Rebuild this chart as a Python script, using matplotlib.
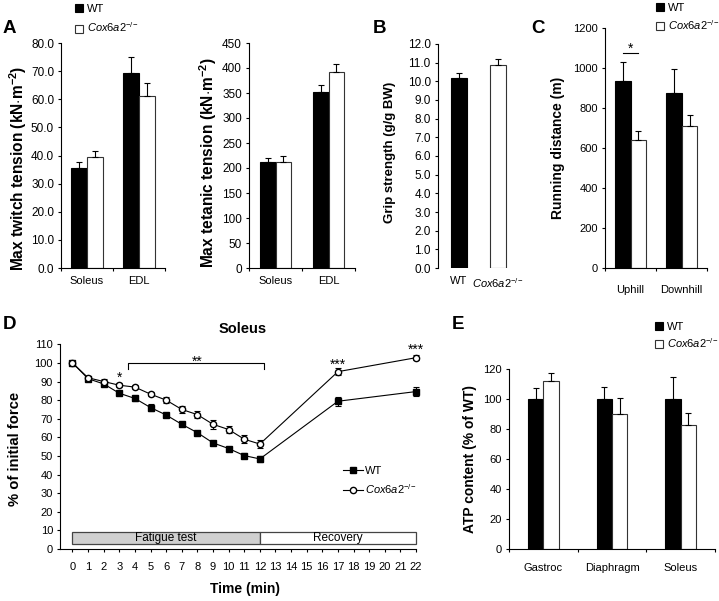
import matplotlib
matplotlib.use('Agg')
import matplotlib.pyplot as plt
from matplotlib.patches import Patch, Rectangle
from matplotlib.lines import Line2D
from matplotlib.ticker import FormatStrFormatter
import numpy as np

plt.rcParams['font.family'] = ['Liberation Sans', 'DejaVu Sans']
plt.rcParams['mathtext.fontset'] = 'custom'
plt.rcParams['mathtext.rm'] = 'Liberation Sans'
plt.rcParams['mathtext.it'] = 'Liberation Sans:italic'
plt.rcParams['mathtext.bf'] = 'Liberation Sans:bold'
plt.rcParams['mathtext.bfit'] = 'Liberation Sans:bold:italic'

KO = r'$\mathit{Cox6a2}^{\mathit{{-}/{-}}}$'

# ---------------- data ----------------
a_cats = ['Soleus', 'EDL']
twitch_wt = [35.5, 69.3]
twitch_wt_err = [2.2, 5.7]
twitch_ko = [39.3, 61.3]
twitch_ko_err = [2.2, 4.5]
tetanic_wt = [212, 352]
tetanic_wt_err = [8, 15]
tetanic_ko = [213, 393]
tetanic_ko_err = [11, 15]

grip_cats = ['WT', KO]
grip = [10.2, 10.9]
grip_err = [0.25, 0.3]

run_cats = ['Uphill', 'Downhill']
run_wt = [935, 875]
run_wt_err = [95, 120]
run_ko = [640, 710]
run_ko_err = [45, 55]

atp_cats = ['Gastroc', 'Diaphragm', 'Soleus']
atp_wt = [100, 100, 100]
atp_wt_err = [7.5, 8, 15]
atp_ko = [112, 90, 82.5]
atp_ko_err = [5.5, 11, 8]

time = [0, 1, 2, 3, 4, 5, 6, 7, 8, 9, 10, 11, 12, 17, 22]
force_wt = [100, 91.5, 88.7, 83.7, 80.9, 76, 72, 67, 62.5, 57, 54, 50.2, 48.4, 79.4, 84.6]
force_wt_err = [0.5, 1, 1, 1, 1.2, 2, 1, 1, 1, 1, 1, 1.2, 1.5, 2.5, 2.5]
force_ko = [100, 92, 90, 88, 87, 83.2, 80, 75, 72.2, 67, 64.2, 59, 56.4, 95.3, 102.8]
force_ko_err = [0.5, 1, 1.2, 1, 1, 1.2, 1.5, 2, 2, 2.5, 2, 2, 2, 1.8, 1.5]
time_ticks = list(range(0, 23))
phases = [('Fatigue test', 0, 12, '#d0d0d0'), ('Recovery', 12, 22, 'white')]

# ---------------- figure ----------------
W, H = 719, 601
fig = plt.figure(figsize=(W / 100, H / 100), dpi=100)


def px_axes(x0, x1, ytop, ybot):
    return fig.add_axes([x0 / W, 1 - ybot / H, (x1 - x0) / W, (ybot - ytop) / H])


def style(ax, ysize=8):
    for s in ['top', 'right']:
        ax.spines[s].set_visible(False)
    for s in ['left', 'bottom']:
        ax.spines[s].set_linewidth(0.8)
    ax.tick_params(direction='out', length=2.5, width=0.8, labelsize=8, pad=2.5)
    ax.tick_params(axis='y', labelsize=ysize)


def ftext(x, y, s, **kw):
    fig.text(x / W, 1 - y / H, s, **kw)


def grouped(ax, cats, wt, wte, ko, koe, bw, ymax, step, fmt, lpad, ysize=8):
    style(ax, ysize)
    n = len(cats)
    c = np.arange(n) + 0.5
    z = np.zeros(n)
    ax.bar(c - bw / 2, wt, bw, color='black', edgecolor='black', lw=0.8, zorder=2)
    ax.bar(c + bw / 2, ko, bw, color='white', edgecolor='#333333', lw=0.8, zorder=2)
    ax.errorbar(c - bw / 2, wt, yerr=[z, wte], fmt='none', ecolor='black',
                elinewidth=0.8, capsize=2.5, capthick=0.8, zorder=3)
    ax.errorbar(c + bw / 2, ko, yerr=[z, koe], fmt='none', ecolor='black',
                elinewidth=0.8, capsize=2.5, capthick=0.8, zorder=3)
    ax.set_xlim(0, n)
    ax.set_ylim(0, ymax)
    ax.set_xticks(np.arange(n + 1))
    ax.set_xticklabels([])
    ax.set_xticks(c, minor=True)
    ax.set_xticklabels(cats, minor=True)
    ax.tick_params(axis='x', which='minor', length=0, pad=lpad, labelsize=8)
    ax.set_yticks(np.arange(0, ymax + step / 2, step))
    ax.yaxis.set_major_formatter(FormatStrFormatter(fmt))
    return c


def bar_legend(x, y, spacing):
    h = [Patch(facecolor='black', edgecolor='black', lw=0.8),
         Patch(facecolor='white', edgecolor='#333333', lw=0.8)]
    fig.legend(h, ['WT', KO], loc='upper left', bbox_to_anchor=(x / W, 1 - y / H),
               frameon=False, fontsize=8, handlelength=0.75, handleheight=0.75,
               handletextpad=0.35, labelspacing=spacing, borderpad=0, borderaxespad=0)


# ---- A left
axA1 = px_axes(61, 165, 43, 268)
grouped(axA1, a_cats, twitch_wt, twitch_wt_err, twitch_ko, twitch_ko_err,
        0.30, 80, 10, '%.1f', 6, ysize=8.5)
ftext(18, 168, r'Max twitch tension (kN$\cdot$m$^{\mathbf{-2}}$)', rotation=90,
      ha='center', va='center', fontsize=11.2, fontweight='bold')

# ---- A right
axA2 = px_axes(249, 355, 43, 268)
grouped(axA2, a_cats, tetanic_wt, tetanic_wt_err, tetanic_ko, tetanic_ko_err,
        0.296, 450, 50, '%d', 6, ysize=8.5)
ftext(208, 163, r'Max tetanic tension (kN$\cdot$m$^{\mathbf{-2}}$)', rotation=90,
      ha='center', va='center', fontsize=11.2, fontweight='bold')
bar_legend(75, 4, 0.6)

# ---- B
axB = px_axes(437.7, 519, 44, 268)
style(axB, 8.5)
axB.spines['bottom'].set_visible(False)
xb = np.arange(len(grip_cats))
axB.bar(xb, grip, 0.4, color=['black', 'white'], edgecolor=['black', '#333333'], lw=0.8, zorder=2)
axB.errorbar(xb, grip, yerr=[np.zeros(2), grip_err], fmt='none', ecolor='black',
             elinewidth=0.8, capsize=2.5, capthick=0.8, zorder=3)
axB.set_xlim(-0.54, 1.54)
axB.set_ylim(0, 12)
axB.set_yticks(np.arange(0, 12.5, 1))
axB.yaxis.set_major_formatter(FormatStrFormatter('%.1f'))
axB.set_xticks(xb)
axB.set_xticklabels(grip_cats)
axB.tick_params(axis='x', length=0, pad=6)
ftext(390, 152, 'Grip strength (g/g BW)', rotation=90, ha='center', va='center',
      fontsize=9.5, fontweight='bold')

# ---- C
axC = px_axes(605, 707.3, 28, 268)
cc = grouped(axC, run_cats, run_wt, run_wt_err, run_ko, run_ko_err,
             0.305, 1200, 200, '%d', 12)
axC.plot([cc[0] - 0.15, cc[0] + 0.15], [1075, 1075], color='black', lw=0.8)
axC.text(cc[0], 1075, '*', ha='center', va='baseline', fontsize=10)
ftext(558, 148, 'Running distance (m)', rotation=90, ha='center', va='center',
      fontsize=10, fontweight='bold')
bar_legend(656, 3, 0.45)

# ---- D
axD = px_axes(60, 420.7, 344.3, 549)
style(axD)
axD.errorbar(time, force_wt, yerr=force_wt_err, fmt='-s', color='black', mfc='black',
             mec='black', ms=4.5, lw=0.8, elinewidth=0.8, capsize=2, capthick=0.8,
             clip_on=False, zorder=3)
axD.errorbar(time, force_ko, yerr=force_ko_err, fmt='-o', color='black', mfc='white',
             mec='black', ms=4.5, lw=0.8, elinewidth=0.8, capsize=2, capthick=0.8,
             clip_on=False, zorder=4)
for name, x0, x1, col in phases:
    axD.add_patch(Rectangle((x0, 2.5), x1 - x0, 6.8, facecolor=col, edgecolor='#444444',
                            lw=0.9, zorder=2))
    axD.text((x0 + x1) / 2, 5.9, name, ha='center', va='center', fontsize=8.5, zorder=3)
axD.set_xlim(-0.8, 22.3)
axD.spines['bottom'].set_bounds(-0.8, 22)
axD.set_ylim(0, 110)
axD.set_xticks(time_ticks)
axD.set_yticks(np.arange(0, 111, 10))
axD.tick_params(axis='x', pad=7)
axD.plot([3.58, 3.58, 12.28, 12.28], [96.6, 100.1, 100.1, 96.6], color='black', lw=0.8)
axD.text(3, 89.6, '*', ha='center', va='baseline', fontsize=10)
axD.text(7.96, 98.7, '**', ha='center', va='baseline', fontsize=10)
axD.text(17, 96.8, '***', ha='center', va='baseline', fontsize=10)
axD.text(22, 104.8, '***', ha='center', va='baseline', fontsize=10)
hD = [Line2D([], [], color='black', lw=0.8, marker='s', ms=4.5, mfc='black'),
      Line2D([], [], color='black', lw=0.8, marker='o', ms=4.5, mfc='white')]
axD.legend(hD, ['WT', KO], loc='upper left', bbox_to_anchor=((343 - 60) / 360.7, (549 - 466) / 204.7),
           frameon=False, fontsize=8, handlelength=1.8, handletextpad=0.2,
           labelspacing=0.55, borderpad=0, borderaxespad=0)
ftext(242.7, 333, 'Soleus', ha='center', va='baseline', fontsize=10.5, fontweight='bold')
ftext(245, 589, 'Time (min)', ha='center', va='center', fontsize=10, fontweight='bold')
ftext(15, 449, '% of initial force', rotation=90, ha='center', va='center',
      fontsize=10.7, fontweight='bold')

# ---- E
axE = px_axes(509, 715, 369.3, 549)
grouped(axE, atp_cats, atp_wt, atp_wt_err, atp_ko, atp_ko_err,
        0.225, 120, 20, '%d', 10)
ftext(470, 459, 'ATP content (% of WT)', rotation=90, ha='center', va='center',
      fontsize=10, fontweight='bold')
bar_legend(655, 322, 0.4)

# ---- panel letters
for letter, x, y in [('A', 3, 33), ('B', 373, 33), ('C', 531, 33), ('D', 3, 329), ('E', 452, 329)]:
    ftext(x, y, letter, ha='left', va='baseline', fontsize=13.5, fontweight='bold')

fig.savefig('out.png', dpi=100)
